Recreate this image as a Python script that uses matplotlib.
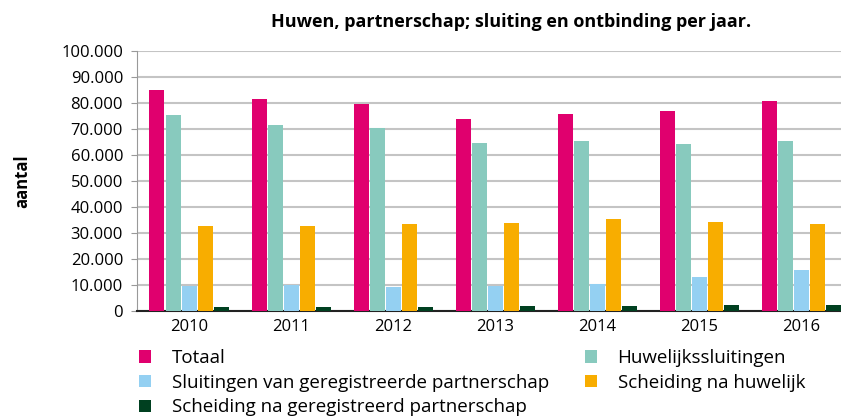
import matplotlib
matplotlib.use("Agg")
import matplotlib.pyplot as plt
import numpy as np
from matplotlib.patches import Patch

years = ["2010", "2011", "2012", "2013", "2014", "2015", "2016"]
totaal = [85000, 81500, 79600, 73800, 75700, 76900, 80700]
huwelijkssluitingen = [75300, 71500, 70300, 64600, 65300, 64200, 65300]
sluitingen_partnerschap = [9500, 9900, 9100, 9500, 10300, 13000, 15700]
scheiding_huwelijk = [32600, 32600, 33400, 33800, 35300, 34100, 33400]
scheiding_partnerschap = [1400, 1400, 1400, 1800, 1800, 2200, 2200]

series = [
    ("Totaal", totaal, "#e0006e"),
    ("Huwelijkssluitingen", huwelijkssluitingen, "#88cabe"),
    ("Sluitingen van geregistreerde partnerschap", sluitingen_partnerschap, "#94d0f2"),
    ("Scheiding na huwelijk", scheiding_huwelijk, "#f8ad00"),
    ("Scheiding na geregistreerd partnerschap", scheiding_partnerschap, "#004020"),
]

plt.rcParams['font.family'] = ['Open Sans', 'DejaVu Sans']

W, H = 841, 418
fig = plt.figure(figsize=(W / 100, H / 100), dpi=100)
left, right, top, bottom = 137, 841, 51, 311
ax = fig.add_axes([left / W, 1 - bottom / H, (right - left) / W, (bottom - top) / H])

x = np.arange(len(years))
bw = 0.147
step = 0.157
for i, (name, vals, col) in enumerate(series):
    ax.bar(x + (i - 2) * step, vals, width=bw, color=col, zorder=3)

ax.set_ylim(0, 100000)
ax.set_xlim(-0.51, 6.39)
yt = np.arange(0, 100001, 10000)
ax.set_yticks(yt)
ax.set_yticklabels([f"{v:,}".replace(",", ".") for v in yt], fontsize=12)
ax.set_xticks(x)
ax.set_xticklabels(years, fontsize=12)
ax.grid(axis='y', color='#c4c4c4', linewidth=1.5, zorder=0)
ax.set_axisbelow(True)
for s in ['top', 'right']:
    ax.spines[s].set_visible(False)
ax.spines['left'].set_color('#999999')
ax.spines['bottom'].set_color('#222222')
ax.spines['bottom'].set_linewidth(1.5)
ax.tick_params(axis='y', length=4, color='#999999', pad=6)
ax.tick_params(axis='x', length=0, pad=6)

ax.set_ylabel("aantal", fontsize=12, fontweight='bold')
ax.yaxis.set_label_coords(-0.15, 0.5)

fig.text(511 / W, 1 - 22 / H, "Huwen, partnerschap; sluiting en ontbinding per jaar.",
         ha='center', va='center', fontsize=13, fontweight='bold')

# legend
handles = [Patch(facecolor=c, edgecolor='none') for _, _, c in series]
labels = [n for n, _, _ in series]
order = [0, 2, 4, 1, 3]
leg = fig.legend([handles[i] for i in order], [labels[i] for i in order],
                 loc='upper left', bbox_to_anchor=(139 / W, 1 - 349 / H),
                 ncol=2, frameon=False, fontsize=13.5, handlelength=0.65,
                 handleheight=0.65, handletextpad=1.1, columnspacing=1.9,
                 labelspacing=0.36, borderaxespad=0, borderpad=0)

fig.savefig("out.png", dpi=100)
